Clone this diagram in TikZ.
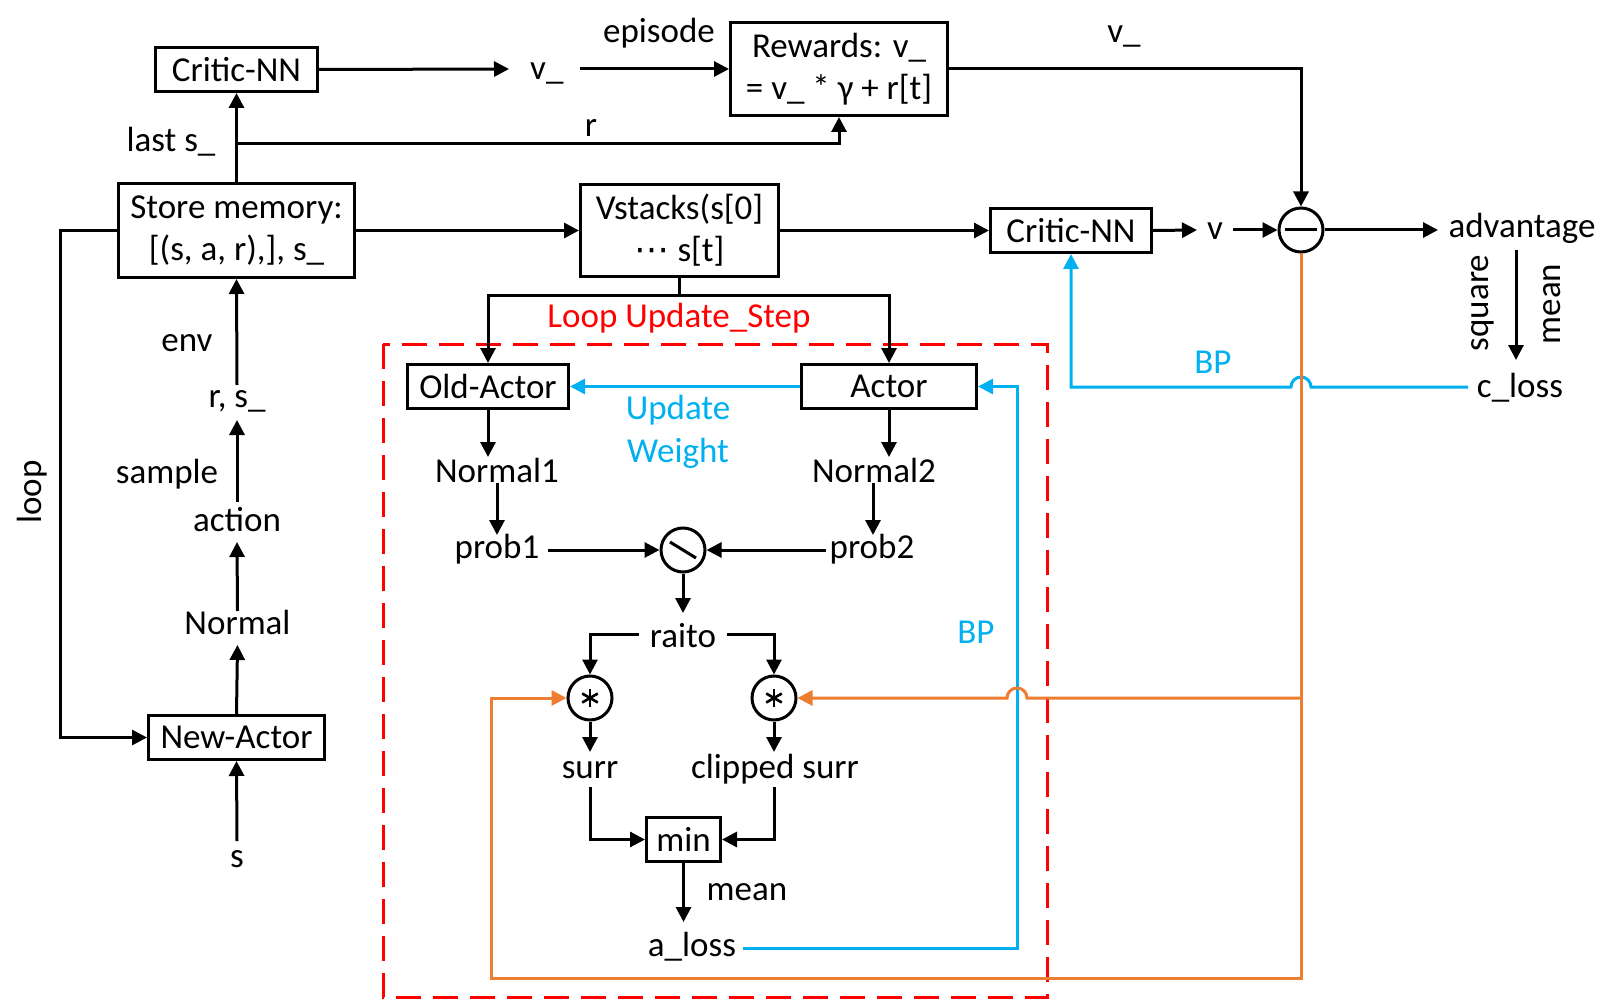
\documentclass[tikz,border=0pt]{standalone}
\usepackage{fontspec}
\setmainfont{Carlito}
\newfontfamily\djv{DejaVu Sans}
\usetikzlibrary{arrows.meta,calc}
\definecolor{bpblue}{RGB}{0,176,240}
\definecolor{orng}{RGB}{237,125,49}
\begin{document}
\begin{tikzpicture}[x=1pt,y=-1pt,
  every node/.style={font=\fontsize{35}{42}\selectfont, inner sep=0pt},
  box/.style={draw, line width=3pt, minimum height=44pt, align=center},
  op/.style={draw, circle, line width=3pt, minimum size=44pt},
  txt/.style={anchor=base},
  ln/.style={line width=3pt},
  astk/.style={line width=2.6pt},
  arr/.style={line width=3pt, -{Triangle[length=15pt,width=15pt]}},
  bluarr/.style={arr, draw=bpblue},
  orarr/.style={arr, draw=orng},
  redbox/.style={draw=red, line width=3pt, dash pattern=on 25pt off 12pt}
]
\useasboundingbox (0,0) rectangle (1617,1000);

% boxes
\node[box, minimum width=162pt] (critic1) at (236.5,69.5) {Critic-NN};
\node[box, minimum width=217pt, minimum height=93pt] (rewards) at (839,69) {Rewards: v\_\\= v\_ * γ + r[t]};
\node[box, minimum width=236pt, minimum height=94pt] (store) at (236.5,230.5) {Store memory:\\{}[(s, a, r),], s\_};
\node[box, minimum width=198pt, minimum height=92pt] (vstacks) at (679.5,230.5) {Vstacks(s[0]\\{\djv ⋯} s[t]};
\node[box, minimum width=161pt] (critic2) at (1071,230.5) {Critic-NN};
\node[box, minimum width=161pt] (oldactor) at (488,386.5) {Old-Actor};
\node[box, minimum width=175pt] (actor) at (889,386.5) {Actor};
\node[box, minimum width=74pt] (min) at (683.5,839.5) {min};
\node[box, minimum width=176pt] (newactor) at (236.5,737.5) {New-Actor};

% operators
\node[op] (minus) at (1301,230) {};
\node[op] (div) at (683,550) {};
\node[op] (mult1) at (590,698) {};
\node[op] (mult2) at (774,698) {};
\draw[ln] ($(minus.center)+(-16,0)$) -- ($(minus.center)+(16,0)$);
\draw[ln] ($(div.center)+(-13,-8)$) -- ($(div.center)+(13,8)$);
\foreach \m in {mult1,mult2}{
  \draw[astk] ($(\m.center)+(0,-9)$) -- ($(\m.center)+(0,9)$);
  \draw[astk] ($(\m.center)+(-7.8,-4.5)$) -- ($(\m.center)+(7.8,4.5)$);
  \draw[astk] ($(\m.center)+(-7.8,4.5)$) -- ($(\m.center)+(7.8,-4.5)$);
}

% texts
\node[txt, anchor=base west] (v1) at (530,80) {v\_};
\node[txt] (episode) at (659,43) {episode};
\node[txt] (rlab) at (591,137) {r};
\node[txt] (v2) at (1124,43) {v\_};
\node[txt] (lasts) at (171,152) {last s\_};
\node[txt] (env) at (187,351) {env};
\node[txt] (rs) at (237,407) {r, s\_};
\node[txt] (sample) at (167,483) {sample};
\node[txt] (action) at (237,531) {action};
\node[txt] (normal) at (237.5,634) {Normal};
\node[txt] (s) at (237,867) {s};
\node[rotate=90] (loop) at (32,492) {loop};
\node[txt] (n1) at (497,482) {Normal1};
\node[txt] (n2) at (874,482) {Normal2};
\node[txt] (p1) at (497,558) {prob1};
\node[txt] (p2) at (872,558) {prob2};
\node[txt, text=bpblue] (upd) at (678,419) {Update};
\node[txt, text=bpblue] (wgt) at (678,462) {Weight};
\node[txt] (raito) at (683,647) {raito};
\node[txt] (surr) at (590,778) {surr};
\node[txt] (clip) at (775,778) {clipped surr};
\node[txt] (mean1) at (747,900) {mean};
\node[txt] (aloss) at (692,956) {a\_loss};
\node[txt, text=bpblue] (bp1) at (976,643) {BP};
\node[txt, text=bpblue] (bp2) at (1213,373) {BP};
\node[txt] (closs) at (1520,397) {c\_loss};
\node[txt] (adv) at (1522,238) {advantage};
\node[txt] (v3) at (1215,240) {v};
\node[rotate=90] (square) at (1483,303) {square};
\node[rotate=90] (mean2) at (1552,304) {mean};
\node[txt, text=red] (loopupd) at (679,327) {Loop Update\_Step};

% red dashed frame
\draw[redbox] (383,344) rectangle (1047,997);

% coordinates
\coordinate (rsplit) at (237,144);
\coordinate (vs) at (679.5,296);
\coordinate (bpcorner) at (1017,948);
\coordinate (ocorner1) at (1301,978);
\coordinate (ocorner2) at (491,978);
\coordinate (omid) at (1301,698);
\coordinate (loopc) at (60,0);

% connectors - top
\draw[arr] (critic1.east) -- ($(v1.base west)+(-21,-11)$);
\draw[arr] ($(v1.base west)+(50,-11)$) -- (rewards.west);
\draw[arr] (store.north) -- (critic1.south);
\draw[arr] (rsplit) -| (rewards.south);
\draw[arr] (rewards.east) -| (minus.north);
\draw[arr] (store.east) -- (vstacks.west);
\draw[arr] (vstacks.east) -- (critic2.west);
\draw[arr] (critic2.east) -- ($(v3.base)+(-18,-10)$);
\draw[arr] ($(v3.base)+(18,-10)$) -- (minus.west);
\draw[arr] (minus.east) -- ($(adv.base)+(-84,-8)$);
\draw[arr] ($(adv.base)+(-6,12)$) -- ($(closs.base)+(-4,-37)$);
\draw[bluarr] ($(closs.base)+(-52,-10)$) -- ($(minus.center |- closs.base)+(10,-10)$)
   arc[start angle=0, end angle=180, radius=10pt] -| (critic2.south);

% left chain
\draw[arr] (store.west) -- (store.west -| loopc) |- (newactor.west);
\draw[arr] (newactor.north) -- ($(normal.base)+(0,11)$);
\draw[arr] ($(normal.base)+(0,-23)$) -- ($(action.base)+(0,11)$);
\draw[arr] ($(action.base)+(0,-29)$) -- ($(rs.base)+(0,13)$);
\draw[arr] ($(rs.base)+(0,-22)$) -- (store.south);
\draw[arr] ($(s.base)+(0,-26)$) -- (newactor.south);

% update loop
\draw[arr] (vstacks.south) -- (vs) -| (oldactor.north);
\draw[arr] (vs) -| (actor.north);
\draw[bluarr] (actor.west) -- (oldactor.east);
\draw[arr] (oldactor.south) -- ($(oldactor.south |- n1.base)+(0,-25)$);
\draw[arr] (actor.south) -- ($(actor.south |- n2.base)+(0,-25)$);
\draw[arr] ($(n1.base)+(0,1)$) -- ($(p1.base)+(0,-23)$);
\draw[arr] ($(n2.base)+(-1,1)$) -- ($(p2.base)+(1,-23)$);
\draw[arr] ($(p1.base)+(51,-8)$) -- (div.west);
\draw[arr] ($(p2.base)+(-46,-8)$) -- (div.east);
\draw[arr] (div.south) -- ($(raito.base)+(0,-34)$);
\draw[arr] ($(raito.base)+(-44,-13)$) -| (mult1.north);
\draw[arr] ($(raito.base)+(44,-13)$) -| (mult2.north);
\draw[arr] (mult1.south) -- ($(surr.base)+(0,-26)$);
\draw[arr] (mult2.south) -- ($(mult2.south |- clip.base)+(0,-26)$);
\draw[arr] ($(surr.base)+(0,9)$) |- (min.west);
\draw[arr] ($(mult2.south |- clip.base)+(0,9)$) |- (min.east);
\draw[arr] (min.south) -- ($(min.south |- aloss.base)+(0,-34)$);
\draw[bluarr] ($(aloss.base)+(51,-8)$) -- (bpcorner) |- (actor.east);

% orange
\draw[orarr] (minus.south) -- (ocorner1) -- (ocorner2) |- (mult1.west);
\draw[orarr] (omid) -- ($(bpcorner |- omid)+(10,0)$)
   arc[start angle=0, end angle=180, radius=10pt] -- (mult2.east);
\end{tikzpicture}
\end{document}
